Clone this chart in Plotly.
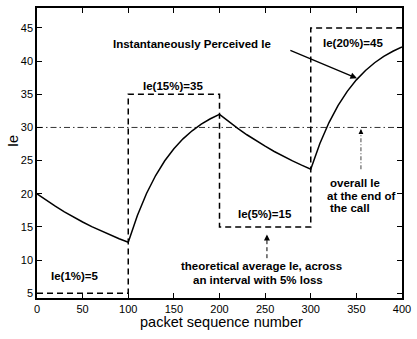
import plotly.graph_objects as go

# ---- data ----
packet = list(range(0, 401, 10))
ie_perceived = [20.00, 19.03, 18.13, 17.28, 16.49, 15.75, 15.05, 14.41, 13.80, 13.23, 12.70,
                16.74, 20.05, 22.76, 24.98, 26.80, 28.28, 29.50, 30.50, 31.31, 31.98,
                30.88, 29.86, 28.90, 28.00, 27.17, 26.38, 25.65, 24.96, 24.32, 23.72,
                27.58, 30.74, 33.32, 35.44, 37.17, 38.59, 39.75, 40.70, 41.48, 42.12]

interval_start = [0, 100, 200, 300]
interval_end = [100, 200, 300, 400]
ie_level = [5, 35, 15, 45]
level_labels = ["Ie(1%)=5", "Ie(15%)=35", "Ie(5%)=15", "Ie(20%)=45"]
overall_ie = 30

x_ticks = [0, 50, 100, 150, 200, 250, 300, 350, 400]
y_ticks = [5, 10, 15, 20, 25, 30, 35, 40, 45]

# step line built from the intervals
step_x, step_y = [], []
for s, e, v in zip(interval_start, interval_end, ie_level):
    step_x += [s, e]
    step_y += [v, v]

FONT = "Liberation Sans, Arial, sans-serif"

fig = go.Figure()

# overall Ie dash-dot line
fig.add_trace(go.Scatter(x=[0, 400], y=[overall_ie, overall_ie], mode="lines",
                         line=dict(color="#333333", width=1, dash="6px,3px,1.5px,3px"),
                         hoverinfo="skip", showlegend=False))
# theoretical step line
fig.add_trace(go.Scatter(x=step_x, y=step_y, mode="lines",
                         line=dict(color="black", width=1.5, dash="6px,4px"),
                         hoverinfo="skip", showlegend=False))
# instantaneous curve
fig.add_trace(go.Scatter(x=packet, y=ie_perceived, mode="lines",
                         line=dict(color="black", width=1.5),
                         hoverinfo="skip", showlegend=False))
# dashed arrow shaft (theoretical average)
fig.add_trace(go.Scatter(x=[252, 252], y=[10.3, 13.2], mode="lines",
                         line=dict(color="black", width=1, dash="4px,3px"),
                         hoverinfo="skip", showlegend=False))
# dash-dot arrow shaft (overall Ie)
fig.add_trace(go.Scatter(x=[355, 355], y=[23.7, 29.0], mode="lines",
                         line=dict(color="#444444", width=1, dash="4px,2px,1px,2px"),
                         hoverinfo="skip", showlegend=False))

ann_font = dict(family=FONT, size=11.5, color="black")
bold = lambda t: "<b>" + t + "</b>"

annotations = []
label_pos = [(42.1, 7.55), (149.3, 36.2), (249.7, 17.0), (346.3, 42.75)]
for (lx, ly), txt in zip(label_pos, level_labels):
    annotations.append(dict(x=lx, y=ly, text=bold(txt), showarrow=False, font=ann_font,
                            xanchor="center", yanchor="middle"))

annotations.append(dict(x=170.4, y=42.6, text=bold("Instantaneously Perceived Ie"),
                        showarrow=False, font=ann_font, xanchor="center", yanchor="middle"))
annotations.append(dict(x=245.5, y=9.1, text=bold("theoretical average Ie, across"),
                        showarrow=False, font=ann_font, xanchor="center", yanchor="middle"))
annotations.append(dict(x=242.6, y=7.0, text=bold("an interval with 5% loss"),
                        showarrow=False, font=ann_font, xanchor="center", yanchor="middle"))
for txt, ty, tx in [("overall Ie", 21.6, 319.0), ("at the end of", 19.6, 316.0), ("the call", 17.8, 319.0)]:
    annotations.append(dict(x=tx, y=ty, text=bold(txt), showarrow=False, font=ann_font,
                            xanchor="left", yanchor="middle"))

# solid arrow to curve
annotations.append(dict(x=350.6, y=37.4, ax=276, ay=41.7, axref="x", ayref="y", xref="x", yref="y",
                        text="", showarrow=True, arrowhead=2, arrowsize=1, arrowwidth=1.3,
                        arrowcolor="black"))
# arrow heads for the dashed arrows
annotations.append(dict(x=252, y=13.85, ax=0, ay=6, text="", showarrow=True, arrowhead=2,
                        arrowsize=1, arrowwidth=1.2, arrowcolor="black"))
annotations.append(dict(x=355, y=29.75, ax=0, ay=6, text="", showarrow=True, arrowhead=2,
                        arrowsize=0.8, arrowwidth=1.2, arrowcolor="black"))

# axis titles
annotations.append(dict(xref="paper", yref="paper", x=0.505, y=-0.082, text="packet sequence number",
                        showarrow=False, font=dict(family=FONT, size=14.5, color="black"),
                        xanchor="center", yanchor="middle"))
annotations.append(dict(xref="paper", yref="paper", x=-0.064, y=0.54, text="Ie", textangle=-90,
                        showarrow=False, font=dict(family=FONT, size=14.5, color="black"),
                        xanchor="center", yanchor="middle"))

axis_common = dict(showline=True, linecolor="black", linewidth=1.5, mirror="allticks",
                   ticks="inside", ticklen=5, tickwidth=1, tickcolor="black",
                   showgrid=False, zeroline=False, ticklabeloverflow="allow",
                   tickfont=dict(family=FONT, size=11, color="black"))

fig.update_layout(
    width=417, height=339,
    margin=dict(l=37, r=8, t=6, b=41),
    paper_bgcolor="white", plot_bgcolor="white",
    xaxis=dict(range=[0, 400], tickvals=x_ticks, **axis_common),
    yaxis=dict(range=[4.3, 48], tickvals=y_ticks, **axis_common),
    annotations=annotations,
    showlegend=False,
)

fig.write_html("out.html")
